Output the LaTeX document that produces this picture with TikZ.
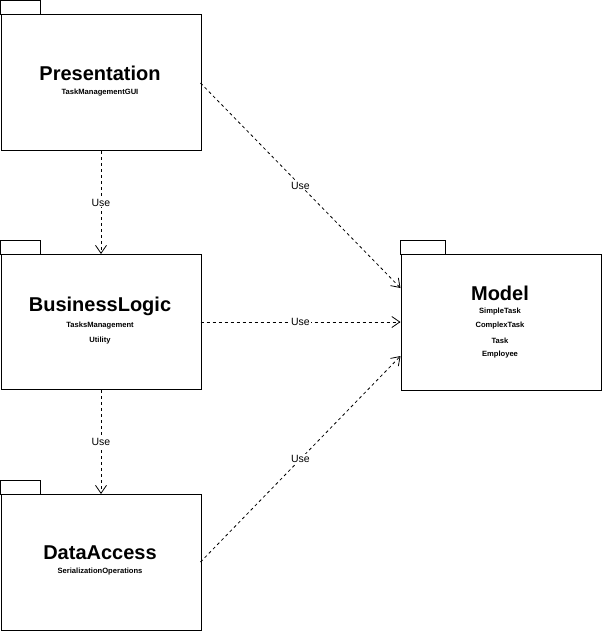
\documentclass[tikz,border=0pt]{standalone}
\usepackage{fontspec}
\setmainfont{Liberation Sans}
\usetikzlibrary{arrows.meta}
\begin{document}
\begin{tikzpicture}[x=1pt,y=-1pt,
  pkgbody/.style={draw=black,line width=1pt,fill=white},
  title/.style={font=\fontsize{20}{22}\selectfont\bfseries,inner sep=0pt},
  sub/.style={font=\fontsize{7.6}{9}\selectfont\bfseries,inner sep=0pt},
  usearrow/.style={draw=black,line width=0.8pt,dash pattern=on 3pt off 3pt,-{Straight Barb[length=8pt,width=11pt,line width=0.8pt]}},
  uselabel/.style={font=\fontsize{10.5}{12}\selectfont,fill=white,inner sep=1pt}]
\useasboundingbox (0,0) rectangle (602,632);
% packages
\draw[pkgbody] (0.5,0.5) rectangle (40,14);
\node[pkgbody,minimum width=200pt,minimum height=136pt,anchor=north west,inner sep=0pt] (pres) at (0.5,14) {};
\draw[pkgbody] (0.5,240.5) rectangle (40,254);
\node[pkgbody,minimum width=200pt,minimum height=135pt,anchor=north west,inner sep=0pt] (bl) at (0.5,254) {};
\draw[pkgbody] (0.5,480.5) rectangle (40,494);
\node[pkgbody,minimum width=200pt,minimum height=136pt,anchor=north west,inner sep=0pt] (da) at (0.5,494) {};
\draw[pkgbody] (400.5,240.5) rectangle (445,254);
\node[pkgbody,minimum width=200pt,minimum height=136pt,anchor=north west,inner sep=0pt] (model) at (400.5,254) {};
% texts
\node[title] (presT) at (100,73) {Presentation};
\node[sub] (presS) at (100,93) {TaskManagementGUI};
\node[title] (blT) at (100,306) {BusinessLogic};
\node[sub] (blS1) at (100,326) {TasksManagement};
\node[sub] (blS2) at (100,341) {Utility};
\node[title] (daT) at (100,553) {DataAccess};
\node[sub] (daS) at (100,572) {SerializationOperations};
\node[title] (mT) at (500,293) {Model};
\node[sub] (mS1) at (500,312) {SimpleTask};
\node[sub] (mS2) at (500,326) {ComplexTask};
\node[sub] (mS3) at (500,341) {Task};
\node[sub] (mS4) at (500,355) {Employee};
% connectors
\coordinate (p1) at (200.5,83);
\coordinate (m1) at (400.5,288);
\draw[usearrow] (p1) -- node[uselabel,pos=0.5] {Use} (m1);
\draw[usearrow] (pres.south) -- node[uselabel] {Use} (bl.north);
\coordinate (b1) at (200.5,322);
\coordinate (m2) at (400.5,322);
\draw[usearrow] (b1) -- node[uselabel] {Use} (m2);
\draw[usearrow] (bl.south) -- node[uselabel] {Use} (da.north);
\coordinate (d1) at (200.5,562);
\coordinate (m3) at (400.5,356);
\draw[usearrow] (d1) -- node[uselabel] {Use} (m3);
\end{tikzpicture}
\end{document}
